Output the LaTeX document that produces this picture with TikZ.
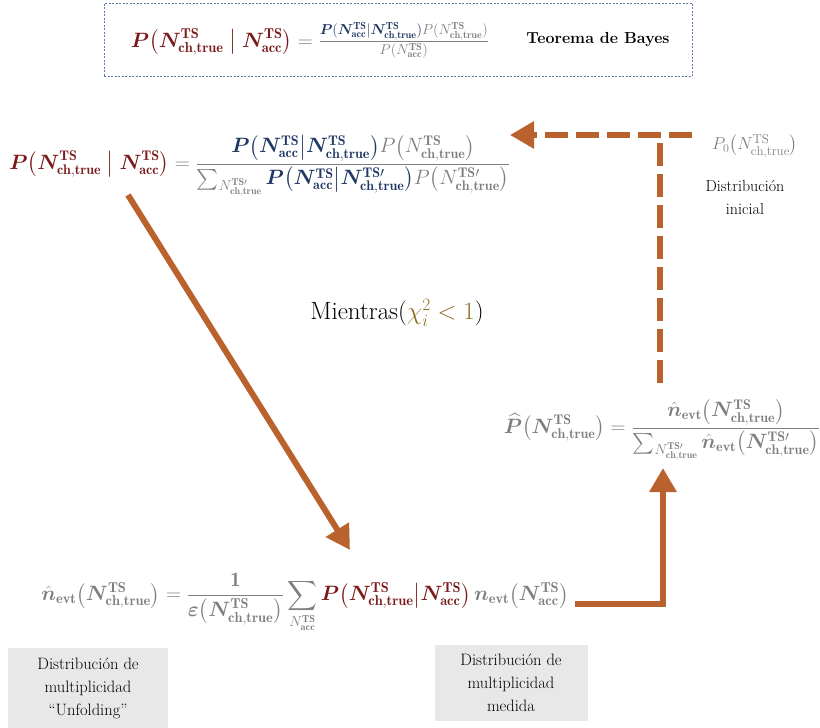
\documentclass[tikz,border=0pt]{standalone}
\usepackage{amsmath,bm}
\usepackage{fontspec}
\usetikzlibrary{arrows.meta}
\definecolor{dred}{HTML}{7A1A1A}
\definecolor{navy}{HTML}{1F3864}
\definecolor{mgray}{HTML}{7F7F7F}
\definecolor{arrorange}{HTML}{BA622D}
\definecolor{gold}{HTML}{8C6D1F}
\definecolor{boxgray}{HTML}{E8E8E8}
\definecolor{boxblue}{HTML}{5A7AB0}
\newcommand{\Ntrue}{\bm{N}^{\mathbf{TS}}_{\mathbf{ch,true}}}
\newcommand{\Ntruep}{\bm{N}^{\mathbf{TS}\prime}_{\mathbf{ch,true}}}
\newcommand{\Nacc}{\bm{N}^{\mathbf{TS}}_{\mathbf{acc}}}
\newcommand{\Ntruen}{N^{\mathbf{TS}}_{\mathbf{ch,true}}}
\newcommand{\Ntruenp}{N^{\mathbf{TS}\prime}_{\mathbf{ch,true}}}
\newcommand{\Naccn}{N^{\mathbf{TS}}_{\mathbf{acc}}}
\begin{document}
\begin{tikzpicture}[x=1pt,y=-1pt,
  arr/.style={draw=arrorange, line width=6pt},
  tipa/.style={-{Triangle[length=24pt,width=26pt,fill=arrorange]}},
  dashpat/.style={dash pattern=on 23pt off 8pt},
  formula/.style={inner sep=0pt, text=mgray},
  lbl/.style={align=center, font=\fontsize{16}{23}\selectfont, inner sep=0pt},
  graybox/.style={fill=boxgray, align=center, font=\fontsize{16.5}{23}\selectfont, inner sep=0pt}
]
\useasboundingbox (0,0) rectangle (820,728);

% Bayes box
\node[draw=boxblue, line width=0.8pt, dash pattern=on 2pt off 1.5pt,
  minimum width=588pt, minimum height=73pt, inner sep=0pt] (bayesbox) at (398,39.5) {};
\node[formula, font=\fontsize{20.5}{24}\selectfont] (bayes) at (310,40)
  {$\displaystyle {\color{dred}\bm{P}\bigl(\Ntrue\bigm|\Nacc\bigr)} = \textstyle\frac{{\color{navy}\bm{P}(\Nacc|\Ntrue)}P(\Ntruen)}{P(\Naccn)}$};
\node[font=\bfseries\fontsize{16}{19}\selectfont, inner sep=0pt] (teorema) at (598,40) {Teorema de Bayes};

% main formula
\node[formula, font=\fontsize{20}{24}\selectfont] (main) at (260,166)
  {$\displaystyle {\color{dred}\bm{P}\bigl(\Ntrue\bigm|\Nacc\bigr)} = \frac{{\color{navy}\bm{P}\bigl(\Nacc\big|\Ntrue\bigr)}P\bigl(\Ntruen\bigr)}{\sum\nolimits_{\Ntruenp}{\color{navy}\bm{P}\bigl(\Nacc\big|\Ntruep\bigr)}P\bigl(\Ntruenp\bigr)}$};

% initial distribution
\node[formula, font=\fontsize{18.5}{22}\selectfont] (p0) at (755,146)
  {$P_0\bigl(N^{\mathrm{TS}}_{\mathrm{ch,true}}\bigr)$};
\node[lbl] (inicial) at (745,197) {Distribución\\inicial};

% loop condition
\node[inner sep=0pt, font=\fontsize{25}{30}\selectfont] (mientras) at (397,313)
  {Mientras({\color{gold}$\chi_i^2 < 1$})};

% estimated prior
\node[formula, font=\fontsize{20}{24}\selectfont] (phat) at (662,430)
  {$\displaystyle \widehat{\bm P}\bigl(\Ntrue\bigr) = \frac{\hat{\bm n}_{\mathbf{evt}}\bigl(\Ntrue\bigr)}{\sum\nolimits_{\Ntruenp}\hat{\bm n}_{\mathbf{evt}}\bigl(\Ntruep\bigr)}$};

% unfolded distribution
\node[formula, font=\fontsize{20.5}{24}\selectfont] (nhat) at (305,603)
  {$\displaystyle \hat{\bm n}_{\mathbf{evt}}\bigl(\Ntrue\bigr) = \frac{\mathbf{1}}{\bm{\varepsilon}\bigl(\Ntrue\bigr)}\sum_{\Naccn}{\color{dred}\bm P\bigl(\Ntrue\big|\Nacc\bigr)}\,\bm n_{\mathbf{evt}}\bigl(\Nacc\bigr)$};

% gray label boxes
\node[graybox, minimum width=160pt, minimum height=80pt] (unfold) at (88,688)
  {Distribución de\\multiplicidad\\“Unfolding”};
\node[graybox, minimum width=153pt, minimum height=76pt] (medida) at (511,683)
  {Distribución de\\multiplicidad\\medida};

% connectors
\coordinate (d1) at (128,195);
\coordinate (d2) at (350,550);
\draw[arr, tipa] (d1) -- (d2);

\coordinate (h1) at (692,135);
\coordinate (h2) at (510,135);
\coordinate (v1) at (660,383);
\coordinate (vc) at (660,138);
\draw[arr, dashpat, tipa] (h1) -- (h2);
\draw[arr, dashpat] (v1) -- (vc);

\coordinate (s1) at (575,604);
\coordinate (s2) at (663,468);
\draw[arr, tipa] (s1) -| (s2);
\end{tikzpicture}
\end{document}
